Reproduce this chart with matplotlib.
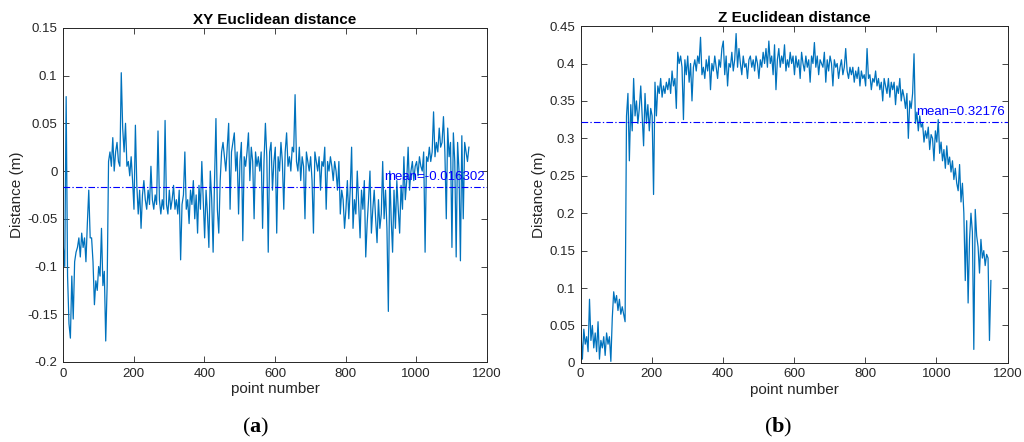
import numpy as np
import matplotlib
matplotlib.use("Agg")
import matplotlib.pyplot as plt

# ==========================================
# DATA (every 4th point)
# ==========================================

step = 4

xy_dist = [
    -0.080, -0.100, 0.078, -0.110, -0.160, -0.175, -0.110, -0.155, -0.095, -0.085,
    -0.080, -0.070, -0.090, -0.065, -0.080, -0.070, -0.095, -0.055, -0.020, -0.070,
    -0.070, -0.095, -0.140, -0.115, -0.125, -0.100, -0.110, -0.060, -0.120, -0.105,
    -0.178, -0.120, 0.010, 0.020, 0.005, 0.035, 0.000, 0.020, 0.030, 0.010,
    0.005, 0.103, 0.045, 0.020, 0.050, 0.005, 0.010, -0.005, 0.015, -0.010,
    -0.040, 0.048, -0.015, -0.045, -0.020, -0.060, -0.025, -0.010, -0.030, -0.040,
    -0.020, -0.035, 0.005, -0.030, -0.040, -0.025, -0.035, 0.042, -0.030, -0.045,
    -0.030, -0.040, 0.053, -0.035, -0.045, -0.020, -0.040, -0.030, -0.015, -0.040,
    -0.030, -0.045, -0.020, -0.093, -0.035, -0.025, 0.020, -0.040, -0.030, -0.055,
    -0.020, -0.035, -0.010, -0.050, -0.025, -0.065, -0.015, -0.040, 0.010, -0.030,
    -0.070, -0.020, -0.045, -0.080, 0.000, -0.030, -0.085, -0.010, 0.055, -0.040,
    -0.065, -0.010, 0.020, 0.030, 0.015, 0.000, 0.025, 0.050, -0.040, 0.020,
    0.030, 0.040, 0.000, 0.020, -0.045, 0.010, 0.030, -0.073, 0.015, 0.005,
    0.020, 0.040, -0.010, 0.025, 0.010, -0.050, 0.020, 0.005, 0.015, 0.000,
    0.020, -0.060, 0.010, 0.050, 0.015, -0.085, 0.020, 0.030, -0.020, 0.010,
    0.025, -0.065, 0.015, 0.000, 0.030, 0.010, -0.040, 0.020, 0.040, 0.005,
    0.015, 0.000, 0.025, 0.020, 0.080, 0.010, 0.000, 0.025, -0.010, 0.015,
    0.005, -0.050, 0.020, 0.010, 0.000, 0.015, -0.010, -0.065, 0.020, 0.010,
    0.000, 0.015, -0.020, 0.010, 0.005, 0.025, -0.040, 0.010, 0.000, 0.015,
    0.005, -0.010, 0.010, 0.000, -0.020, 0.010, -0.045, -0.020, -0.030, -0.060,
    -0.040, -0.010, -0.050, -0.020, 0.025, -0.060, -0.030, -0.045, 0.000, -0.035,
    -0.070, -0.020, -0.040, -0.010, -0.090, -0.055, -0.030, 0.000, -0.065, -0.040,
    -0.020, -0.050, -0.075, -0.030, -0.060, -0.045, 0.010, -0.050, -0.020, -0.060,
    -0.147, 0.000, -0.050, -0.085, -0.020, -0.060, -0.010, -0.040, -0.065, -0.015,
    -0.040, 0.015, -0.030, -0.010, 0.025, -0.020, 0.000, 0.010, -0.010, 0.005,
    0.010, -0.005, 0.015, 0.005, 0.000, 0.020, -0.085, 0.015, 0.010, 0.025,
    0.010, 0.020, 0.062, 0.015, 0.030, 0.020, 0.045, 0.025, 0.030, 0.057,
    0.020, -0.050, 0.045, 0.015, 0.030, -0.080, 0.040, 0.010, -0.090, 0.030,
    0.000, -0.094, 0.037, -0.050, 0.030, 0.020, 0.010, 0.025,
]

z_dist = [
    0.040, 0.005, 0.045, 0.025, 0.035, 0.015, 0.085, 0.030, 0.050, 0.020,
    0.040, 0.015, 0.055, 0.005, 0.030, 0.020, 0.035, 0.010, 0.040, 0.025,
    0.035, 0.002, 0.060, 0.095, 0.080, 0.090, 0.070, 0.085, 0.065, 0.075,
    0.065, 0.055, 0.330, 0.360, 0.270, 0.345, 0.310, 0.380, 0.330, 0.350,
    0.320, 0.340, 0.370, 0.330, 0.290, 0.360, 0.320, 0.345, 0.310, 0.340,
    0.330, 0.225, 0.375, 0.330, 0.370, 0.360, 0.380, 0.355, 0.370, 0.360,
    0.375, 0.365, 0.380, 0.360, 0.390, 0.370, 0.380, 0.340, 0.415, 0.400,
    0.410, 0.395, 0.325, 0.405, 0.385, 0.410, 0.375, 0.400, 0.350, 0.395,
    0.405, 0.390, 0.410, 0.400, 0.435, 0.385, 0.395, 0.380, 0.405, 0.390,
    0.410, 0.365, 0.400, 0.390, 0.410, 0.395, 0.380, 0.405, 0.395, 0.420,
    0.430, 0.385, 0.410, 0.370, 0.400, 0.395, 0.415, 0.390, 0.405, 0.440,
    0.395, 0.420, 0.400, 0.385, 0.410, 0.395, 0.400, 0.380, 0.405, 0.410,
    0.395, 0.405, 0.390, 0.410, 0.400, 0.380, 0.405, 0.395, 0.415, 0.400,
    0.420, 0.395, 0.430, 0.400, 0.410, 0.385, 0.425, 0.365, 0.405, 0.420,
    0.395, 0.410, 0.400, 0.425, 0.390, 0.405, 0.395, 0.415, 0.400, 0.410,
    0.385, 0.410, 0.395, 0.405, 0.380, 0.415, 0.400, 0.390, 0.410, 0.395,
    0.405, 0.375, 0.410, 0.400, 0.428, 0.395, 0.410, 0.385, 0.405, 0.400,
    0.395, 0.415, 0.375, 0.405, 0.390, 0.410, 0.400, 0.370, 0.405, 0.395,
    0.400, 0.380, 0.395, 0.405, 0.385, 0.395, 0.420, 0.390, 0.380, 0.395,
    0.385, 0.395, 0.375, 0.390, 0.380, 0.395, 0.370, 0.390, 0.380, 0.385,
    0.370, 0.420, 0.380, 0.385, 0.365, 0.380, 0.375, 0.390, 0.370, 0.380,
    0.365, 0.375, 0.350, 0.380, 0.370, 0.360, 0.380, 0.355, 0.375, 0.365,
    0.375, 0.345, 0.370, 0.360, 0.380, 0.350, 0.365, 0.355, 0.340, 0.360,
    0.300, 0.350, 0.340, 0.360, 0.413, 0.320, 0.335, 0.310, 0.330, 0.315,
    0.320, 0.295, 0.310, 0.300, 0.315, 0.285, 0.305, 0.300, 0.270, 0.310,
    0.295, 0.325, 0.280, 0.295, 0.270, 0.285, 0.260, 0.290, 0.265, 0.275,
    0.255, 0.270, 0.245, 0.260, 0.240, 0.230, 0.265, 0.215, 0.240, 0.200,
    0.110, 0.190, 0.080, 0.165, 0.200, 0.175, 0.018, 0.205, 0.170, 0.155,
    0.120, 0.165, 0.140, 0.150, 0.130, 0.145, 0.140, 0.030, 0.110,
]

xy_mean = -0.016302
z_mean = 0.32176

xy_yticks = [-0.2, -0.15, -0.1, -0.05, 0, 0.05, 0.1, 0.15]
xy_ylabels = ["-0.2", "-0.15", "-0.1", "-0.05", "0", "0.05", "0.1", "0.15"]
z_yticks = [0, 0.05, 0.1, 0.15, 0.2, 0.25, 0.3, 0.35, 0.4, 0.45]
z_ylabels = ["0", "0.05", "0.1", "0.15", "0.2", "0.25", "0.3", "0.35", "0.4", "0.45"]
x_ticks = [0, 200, 400, 600, 800, 1000, 1200]

# ==========================================
# STYLE
# ==========================================

plt.rcParams["font.family"] = ["Liberation Sans", "DejaVu Sans"]
plt.rcParams["axes.unicode_minus"] = False
plt.rcParams["mathtext.fontset"] = "custom"
plt.rcParams["mathtext.bf"] = "Liberation Serif:bold"
plt.rcParams["mathtext.rm"] = "Liberation Serif"

line_color = "#0072BD"
mean_color = "#0000FF"
axis_color = "#262626"
dashdot = (0, (6, 2, 1.2, 2))

fig = plt.figure(figsize=(10.24, 4.42), dpi=100)

ax1 = fig.add_axes([0.0615, 0.181, 0.414, 0.756])
ax2 = fig.add_axes([0.567, 0.179, 0.417, 0.762])


def style_axes(ax, yticks, ylabels, ylim, title):
    ax.set_xlim(0, 1200)
    ax.set_ylim(*ylim)
    ax.set_xticks(x_ticks)
    ax.set_xticklabels([str(t) for t in x_ticks])
    ax.set_yticks(yticks)
    ax.set_yticklabels(ylabels)
    ax.tick_params(direction="in", length=4, width=0.6, top=True, right=True,
                   labelsize=9.5, colors=axis_color, pad=4)
    for sp in ax.spines.values():
        sp.set_color(axis_color)
        sp.set_linewidth(0.7)
    ax.set_title(title, fontsize=11, fontweight="bold", pad=3)
    ax.set_xlabel("point number", fontsize=11, color=axis_color, labelpad=2)
    ax.set_ylabel("Distance (m)", fontsize=11, color=axis_color, labelpad=2)


# ==========================================
# PANEL (a): XY
# ==========================================

x_xy = np.arange(len(xy_dist)) * step + 1
ax1.plot(x_xy, xy_dist, color=line_color, linewidth=0.9)
ax1.axhline(xy_mean, color=mean_color, linestyle=dashdot, linewidth=0.8,
            zorder=3)
ax1.text(908, -0.006, "mean=" + str(xy_mean), color=mean_color,
         fontsize=9.5, va="center", ha="left")
style_axes(ax1, xy_yticks, xy_ylabels, (-0.2, 0.15), "XY Euclidean distance")

# ==========================================
# PANEL (b): Z
# ==========================================

x_z = np.arange(len(z_dist)) * step + 1
ax2.plot(x_z, z_dist, color=line_color, linewidth=0.9)
ax2.axhline(z_mean, color=mean_color, linestyle=dashdot, linewidth=0.8,
            zorder=3)
ax2.text(942, 0.335, "mean=" + str(z_mean), color=mean_color,
         fontsize=9.5, va="center", ha="left")
style_axes(ax2, z_yticks, z_ylabels, (0, 0.45), "Z Euclidean distance")

# ==========================================
# PANEL LETTERS
# ==========================================

fig.text(0.25, 0.032, r"$\mathrm{(}\mathbf{a}\mathrm{)}$", fontsize=16,
         ha="center", va="center")
fig.text(0.76, 0.032, r"$\mathrm{(}\mathbf{b}\mathrm{)}$", fontsize=16,
         ha="center", va="center")

plt.savefig("out.png", dpi=100)
